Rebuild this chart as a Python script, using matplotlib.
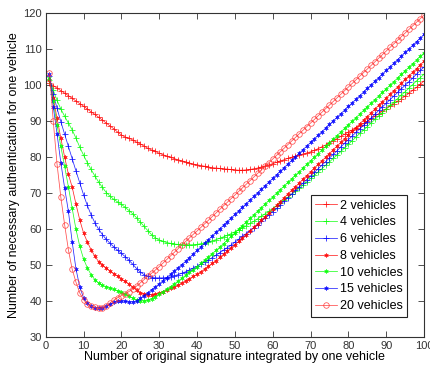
import matplotlib
matplotlib.use("Agg")
import matplotlib.pyplot as plt
import numpy as np

plt.rcParams['font.family'] = ['Liberation Sans', 'DejaVu Sans']

# number of original signatures integrated by one vehicle
sig = np.arange(1, 101)

labels = ['2 vehicles', '4 vehicles', '6 vehicles', '8 vehicles',
          '10 vehicles', '15 vehicles', '20 vehicles']

v2 = [100.7, 99.9, 99.2, 98.5, 97.8, 97.1, 96.4, 95.6, 94.9, 94.2,
      93.4, 92.6, 91.9, 91.1, 90.3, 89.5, 88.7, 87.9, 87.0, 86.2,
      85.6, 85.3, 84.8, 84.2, 83.7, 83.1, 82.5, 82.0, 81.6, 81.1,
      80.7, 80.3, 80.0, 79.6, 79.3, 79.0, 78.7, 78.4, 78.1, 77.9,
      77.7, 77.5, 77.3, 77.1, 77.0, 76.9, 76.8, 76.7, 76.6, 76.5,
      76.4, 76.4, 76.5, 76.6, 76.8, 77.0, 77.3, 77.6, 77.9, 78.2,
      78.6, 79.0, 79.3, 79.7, 80.0, 80.3, 80.6, 80.9, 81.2, 81.5,
      81.9, 82.4, 82.9, 83.4, 84.0, 84.6, 85.2, 85.8, 86.4, 87.0,
      87.6, 88.2, 88.8, 89.4, 90.0, 90.7, 91.4, 92.1, 92.8, 93.5,
      94.2, 94.9, 95.6, 96.3, 97.0, 97.8, 98.6, 99.4, 100.3, 101.2]

v4 = [101.5, 98.6, 95.8, 93.4, 91.4, 89.5, 87.6, 85.3, 82.8, 80.6,
      78.5, 76.6, 74.8, 73.1, 71.6, 70.2, 69.2, 68.3, 67.6, 66.9,
      66.1, 65.2, 64.3, 63.2, 62.0, 60.8, 59.6, 58.5, 57.6, 57.0,
      56.6, 56.3, 56.1, 55.9, 55.8, 55.7, 55.7, 55.7, 55.7, 55.8,
      56.0, 56.2, 56.5, 56.8, 57.1, 57.5, 57.9, 58.3, 58.8, 59.3,
      59.8, 60.4, 61.0, 61.6, 62.2, 62.9, 63.6, 64.3, 65.0, 65.7,
      66.5, 67.3, 68.1, 68.9, 69.7, 70.5, 71.4, 72.3, 73.2, 74.1,
      75.0, 75.9, 76.8, 77.8, 78.7, 79.7, 80.6, 81.6, 82.6, 83.6,
      84.6, 85.6, 86.6, 87.5, 88.5, 89.5, 90.5, 91.5, 92.4, 93.4,
      94.4, 95.3, 96.3, 97.3, 98.2, 99.2, 100.2, 101.2, 102.1, 103.1]

v6 = [102.5, 97.5, 93.6, 89.9, 86.4, 83.0, 79.6, 76.2, 72.9, 69.6,
      66.6, 64.0, 61.8, 60.0, 58.5, 57.2, 56.1, 55.1, 54.2, 53.3,
      52.4, 51.4, 50.3, 49.1, 48.1, 47.4, 46.9, 46.6, 46.5, 46.5,
      46.5, 46.6, 46.8, 47.1, 47.4, 47.8, 48.2, 48.7, 49.2, 49.7,
      50.3, 50.9, 51.5, 52.1, 52.8, 53.5, 54.2, 54.9, 55.6, 56.4,
      57.2, 58.0, 58.8, 59.6, 60.4, 61.3, 62.2, 63.1, 64.0, 64.9,
      65.8, 66.8, 67.8, 68.8, 69.8, 70.8, 71.8, 72.8, 73.8, 74.8,
      75.8, 76.8, 77.8, 78.8, 79.8, 80.8, 81.8, 82.9, 83.9, 84.9,
      85.9, 86.9, 87.9, 88.9, 89.9, 90.9, 91.9, 93.0, 94.0, 95.0,
      96.0, 97.0, 98.0, 99.0, 100.0, 101.0, 102.0, 103.1, 104.1, 105.1]

v8 = [101.5, 96.5, 90.8, 85.3, 80.1, 75.3, 71.7, 67.0, 62.6, 59.0,
      56.5, 54.3, 52.5, 51.0, 50.1, 49.2, 48.4, 47.7, 47.0, 46.2,
      45.5, 44.7, 43.9, 43.1, 42.4, 42.0, 41.8, 41.8, 42.0, 42.3,
      42.7, 43.1, 43.6, 44.0, 44.5, 45.1, 45.7, 46.3, 46.9, 47.5,
      48.2, 48.9, 49.7, 50.5, 51.3, 52.2, 53.0, 53.9, 54.8, 55.7,
      56.6, 57.6, 58.5, 59.5, 60.5, 61.5, 62.5, 63.5, 64.6, 65.6,
      66.6, 67.7, 68.7, 69.8, 70.8, 71.8, 72.8, 73.9, 74.9, 75.9,
      77.0, 78.0, 79.0, 80.0, 81.0, 82.1, 83.1, 84.1, 85.2, 86.2,
      87.2, 88.2, 89.3, 90.3, 91.3, 92.3, 93.4, 94.4, 95.4, 96.4,
      97.5, 98.5, 99.5, 100.5, 101.6, 102.6, 103.6, 104.6, 105.7, 106.7]

v10 = [102.0, 95.5, 89.0, 83.0, 77.5, 71.8, 65.8, 60.0, 55.3, 51.8,
       49.3, 47.4, 46.0, 45.0, 44.4, 44.1, 43.7, 43.3, 42.9, 42.5,
       42.0, 41.4, 40.9, 40.4, 40.1, 40.1, 40.3, 40.7, 41.3, 42.0,
       42.7, 43.4, 44.1, 44.8, 45.6, 46.4, 47.2, 48.0, 48.8, 49.6,
       50.5, 51.4, 52.3, 53.2, 54.1, 55.0, 56.0, 57.0, 58.0, 59.0,
       60.0, 61.0, 62.0, 63.0, 64.0, 65.0, 66.0, 67.0, 68.0, 69.0,
       70.0, 71.0, 72.0, 73.0, 74.0, 75.0, 76.0, 77.0, 78.0, 79.0,
       80.0, 81.0, 82.0, 83.0, 84.0, 85.0, 86.0, 87.0, 88.0, 89.0,
       90.0, 91.0, 92.0, 93.0, 94.0, 95.0, 96.0, 97.0, 98.0, 99.0,
       100.0, 101.0, 102.0, 103.0, 104.0, 105.0, 106.0, 107.0, 108.0, 109.0]

v15 = [103.0, 94.0, 86.5, 78.5, 71.5, 65.0, 56.5, 49.0, 44.0, 41.0,
       39.4, 38.6, 38.2, 38.1, 38.2, 38.6, 39.2, 39.7, 40.0, 40.1,
       40.0, 39.8, 39.8, 40.1, 40.8, 41.6, 42.4, 43.2, 44.0, 44.8,
       45.7, 46.6, 47.5, 48.4, 49.3, 50.2, 51.1, 52.1, 53.1, 54.1,
       55.1, 56.1, 57.1, 58.1, 59.1, 60.1, 61.1, 62.1, 63.1, 64.1,
       65.1, 66.1, 67.1, 68.1, 69.1, 70.1, 71.1, 72.1, 73.1, 74.1,
       75.1, 76.1, 77.1, 78.1, 79.1, 80.1, 81.1, 82.1, 83.1, 84.1,
       85.1, 86.1, 87.1, 88.1, 89.1, 90.1, 91.1, 92.1, 93.1, 94.1,
       95.1, 96.1, 97.1, 98.1, 99.1, 100.1, 101.1, 102.1, 103.1, 104.1,
       105.1, 106.1, 107.1, 108.1, 109.1, 110.1, 111.1, 112.1, 113.1, 114.1]

v20 = [103.5, 90.0, 78.1, 68.9, 61.3, 54.3, 48.9, 45.3, 42.3, 40.4,
       39.2, 38.6, 38.3, 38.0, 38.2, 38.7, 39.5, 40.3, 41.0, 41.6,
       42.1, 42.7, 43.4, 44.2, 45.1, 46.0, 46.9, 47.8, 48.7, 49.6,
       50.6, 51.6, 52.6, 53.6, 54.6, 55.6, 56.6, 57.6, 58.6, 59.5,
       60.5, 61.5, 62.5, 63.5, 64.5, 65.5, 66.5, 67.5, 68.5, 69.5,
       70.5, 71.5, 72.5, 73.5, 74.5, 75.5, 76.5, 77.5, 78.5, 79.5,
       80.5, 81.5, 82.5, 83.5, 84.5, 85.5, 86.5, 87.5, 88.5, 89.5,
       90.5, 91.5, 92.5, 93.5, 94.5, 95.5, 96.5, 97.5, 98.5, 99.5,
       100.5, 101.5, 102.5, 103.5, 104.5, 105.5, 106.5, 107.5, 108.5, 109.5,
       110.5, 111.5, 112.5, 113.5, 114.5, 115.5, 116.5, 117.5, 118.5, 119.5]

series = [v2, v4, v6, v8, v10, v15, v20]
colors = ['#ff0000', '#00ff00', '#0000ff', '#ff0000', '#00ff00', '#0000ff', '#ff3030']
# matlab style: '+' plus, '*' asterisk, 'o' circle
markers = ['+', '+', '+', (6, 2, 0), (6, 2, 0), (6, 2, 0), 'o']
msizes = [5, 5, 5, 3, 3, 3, 4]
mews = [0.6, 0.6, 0.6, 0.45, 0.45, 0.45, 0.55]

fig = plt.figure(figsize=(4.31, 3.67), dpi=100)
ax = fig.add_axes([0.106, 0.081, 0.878, 0.883])

for vals, c, m, ms, mw, lab in zip(series, colors, markers, msizes, mews, labels):
    ax.plot(sig, vals, color=c, lw=0.55, marker=m, ms=ms, mew=mw,
            mfc='none', mec=c, alpha=0.85, label=lab)

ax.set_xlim(0, 100)
ax.set_ylim(30, 120)
ax.set_xticks(np.arange(0, 101, 10))
ax.set_yticks(np.arange(30, 121, 10))
ax.tick_params(direction='in', top=True, right=True, length=4, width=0.6,
               labelsize=8, colors='#333333', pad=3)
for s in ax.spines.values():
    s.set_linewidth(0.8)
    s.set_color('#333333')

ax.set_xlabel('Number of original signature integrated by one vehicle',
              fontsize=9, labelpad=0)
ax.set_ylabel('Number of necessary authentication for one vehicle',
              fontsize=9, labelpad=2)

leg = ax.legend(loc='lower left', bbox_to_anchor=(0.70, 0.064), fontsize=9,
                fancybox=False, edgecolor='#222222', framealpha=1,
                handlelength=1.8, handletextpad=0.2, borderpad=0.35,
                borderaxespad=0, labelspacing=0.38)
leg.get_frame().set_linewidth(0.8)

fig.savefig('out.png', dpi=100)
